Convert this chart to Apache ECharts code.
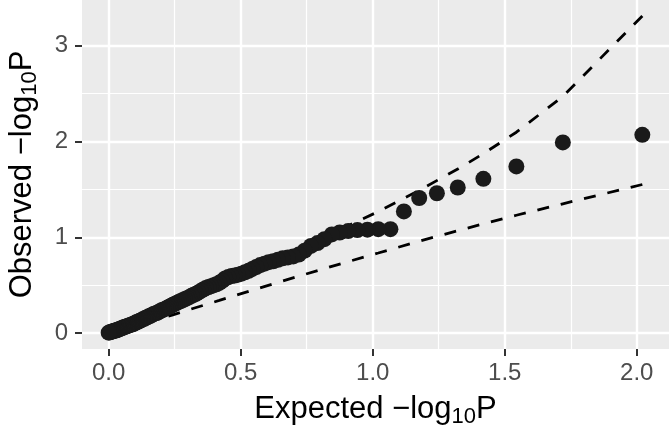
<!DOCTYPE html>
<html><head><meta charset="utf-8">
<script src="https://cdn.jsdelivr.net/npm/echarts@6/dist/echarts.min.js"></script>
<style>html,body{margin:0;padding:0;background:#fff}#c{width:669px;height:428px}</style>
</head><body><div id="c"></div>
<script>
// Expected -log10P (x) and observed -log10P (y) for each point
const expected = [2.021,1.720,1.544,1.419,1.322,1.243,1.176,1.118,1.067,1.021,
0.980,0.942,0.907,0.875,0.845,0.817,0.791,0.766,0.742,0.720,
0.699,0.679,0.659,0.641,0.623,0.606,0.590,0.574,0.559,0.544,
0.530,0.516,0.503,0.490,0.477,0.465,0.453,0.441,0.430,0.419,
0.408,0.398,0.388,0.378,0.368,0.358,0.349,0.340,0.331,0.322,
0.314,0.305,0.297,0.289,0.281,0.273,0.265,0.258,0.250,0.243,
0.236,0.229,0.222,0.215,0.208,0.202,0.195,0.189,0.182,0.176,
0.170,0.164,0.158,0.152,0.146,0.140,0.135,0.129,0.124,0.118,
0.113,0.107,0.102,0.097,0.092,0.087,0.082,0.077,0.072,0.067,
0.062,0.057,0.053,0.048,0.043,0.039,0.034,0.030,0.026,0.021,
0.017,0.013,0.008,0.004,0.000];
const observed = [2.07,1.99,1.74,1.61,1.52,1.46,1.41,1.27,1.085,1.085,
1.08,1.075,1.065,1.05,1.03,0.98,0.94,0.91,0.86,0.82,
0.80,0.79,0.78,0.765,0.75,0.74,0.725,0.71,0.69,0.67,
0.65,0.635,0.62,0.61,0.60,0.595,0.585,0.57,0.545,0.525,
0.51,0.50,0.49,0.48,0.47,0.455,0.44,0.425,0.41,0.40,
0.39,0.375,0.365,0.355,0.345,0.335,0.325,0.315,0.305,0.295,
0.285,0.275,0.265,0.255,0.245,0.24,0.23,0.22,0.21,0.205,
0.20,0.19,0.18,0.175,0.165,0.16,0.15,0.145,0.135,0.13,
0.12,0.115,0.11,0.10,0.095,0.09,0.085,0.08,0.075,0.07,
0.065,0.06,0.055,0.05,0.045,0.04,0.035,0.03,0.027,0.024,
0.02,0.016,0.012,0.008,0.004];
// Confidence band (dashed lines)
const bandX = [2.021,1.720,1.544,1.419,1.322,1.176,1.021,0.845,0.720,0.623,0.544,0.477,0.419,0.322,0.243,0.176,0.118,0.092,0.067,0.043,0.021,0.000];
const bandUpper = [3.311,2.47,2.097,1.873,1.712,1.491,1.268,1.043,0.884,0.767,0.670,0.590,0.521,0.406,0.312,0.234,0.165,0.134,0.103,0.075,0.045,0.012];
const bandLower = [1.551,1.35,1.230,1.140,1.069,0.959,0.836,0.697,0.594,0.514,0.448,0.391,0.341,0.259,0.191,0.134,0.086,0.064,0.045,0.028,0.011,0.000];
// Axis ticks
const xTicks = [0, 0.5, 1, 1.5, 2];
const xMinor = [0.25, 0.75, 1.25, 1.75];
const yTicks = [0, 1, 2, 3];
const yMinor = [0.5, 1.5, 2.5];

const FONT = 'Liberation Sans, Arial, Helvetica, sans-serif';
const X_MIN = -0.101, X_MAX = 2.122, Y_MIN = -0.166, Y_MAX = 3.477;

const pts = expected.map((x, i) => [x, observed[i]]);
const up = bandX.map((x, i) => [x, bandUpper[i]]);
const lo = bandX.map((x, i) => [x, bandLower[i]]);

const titleRich = {
  a: {fontSize: 31, lineHeight: 38, color: '#000', fontFamily: FONT},
  s: {fontSize: 22, lineHeight: 22, color: '#000', fontFamily: FONT, verticalAlign: 'bottom'}
};

const chart = echarts.init(document.getElementById('c'), null, {renderer: 'canvas'});
chart.setOption({
  animation: false,
  backgroundColor: '#ffffff',
  grid: {left: 82, right: 0, top: 0, bottom: 79, show: true, backgroundColor: '#EBEBEB', borderWidth: 0, containLabel: false, outerBoundsMode: 'none'},
  xAxis: [{
    type: 'value', min: X_MIN, max: X_MAX, position: 'bottom',
    axisLine: {show: false, onZero: false},
    axisTick: {show: true, customValues: xTicks, length: 7, lineStyle: {color: '#333333', width: 2}},
    axisLabel: {customValues: xTicks, formatter: v => v.toFixed(1), color: '#4D4D4D', fontSize: 24, fontFamily: FONT, margin: 12},
    splitLine: {show: true, lineStyle: {color: '#FFFFFF', width: 2.4}},
    name: '{a|Expected \u2212log}{s|10}{a|P}', nameLocation: 'middle', nameGap: 41,
    nameTextStyle: {rich: titleRich}
  }, {
    type: 'value', min: X_MIN, max: X_MAX, position: 'top',
    axisLine: {show: false, onZero: false}, axisTick: {show: false, customValues: xMinor},
    axisLabel: {show: false, customValues: xMinor},
    splitLine: {show: true, lineStyle: {color: '#FFFFFF', width: 1.2}}
  }],
  yAxis: [{
    type: 'value', min: Y_MIN, max: Y_MAX, position: 'left',
    axisLine: {show: false, onZero: false},
    axisTick: {show: true, customValues: yTicks, length: 7, lineStyle: {color: '#333333', width: 2}},
    axisLabel: {customValues: yTicks, formatter: v => String(v), color: '#4D4D4D', fontSize: 24, fontFamily: FONT, margin: 14},
    splitLine: {show: true, lineStyle: {color: '#FFFFFF', width: 2.4}},
    name: '{a|Observed \u2212log}{s|10}{a|P}', nameLocation: 'middle', nameGap: 41,
    nameTextStyle: {rich: titleRich}
  }, {
    type: 'value', min: Y_MIN, max: Y_MAX, position: 'right',
    axisLine: {show: false, onZero: false}, axisTick: {show: false, customValues: yMinor},
    axisLabel: {show: false, customValues: yMinor},
    splitLine: {show: true, lineStyle: {color: '#FFFFFF', width: 1.2}}
  }],
  series: [{
    type: 'line', data: up, xAxisIndex: 0, yAxisIndex: 0, showSymbol: false, symbol: 'none', smooth: false,
    lineStyle: {color: '#000000', width: 2.8, type: [12, 12]}, silent: true, z: 2
  }, {
    type: 'line', data: lo, xAxisIndex: 0, yAxisIndex: 0, showSymbol: false, symbol: 'none', smooth: false,
    lineStyle: {color: '#000000', width: 2.8, type: [12, 12]}, silent: true, z: 2
  }, {
    type: 'scatter', data: pts, xAxisIndex: 0, yAxisIndex: 0, symbol: 'circle', symbolSize: 16,
    itemStyle: {color: '#1A1A1A', opacity: 1}, silent: true, z: 3
  }]
});
</script></body></html>
